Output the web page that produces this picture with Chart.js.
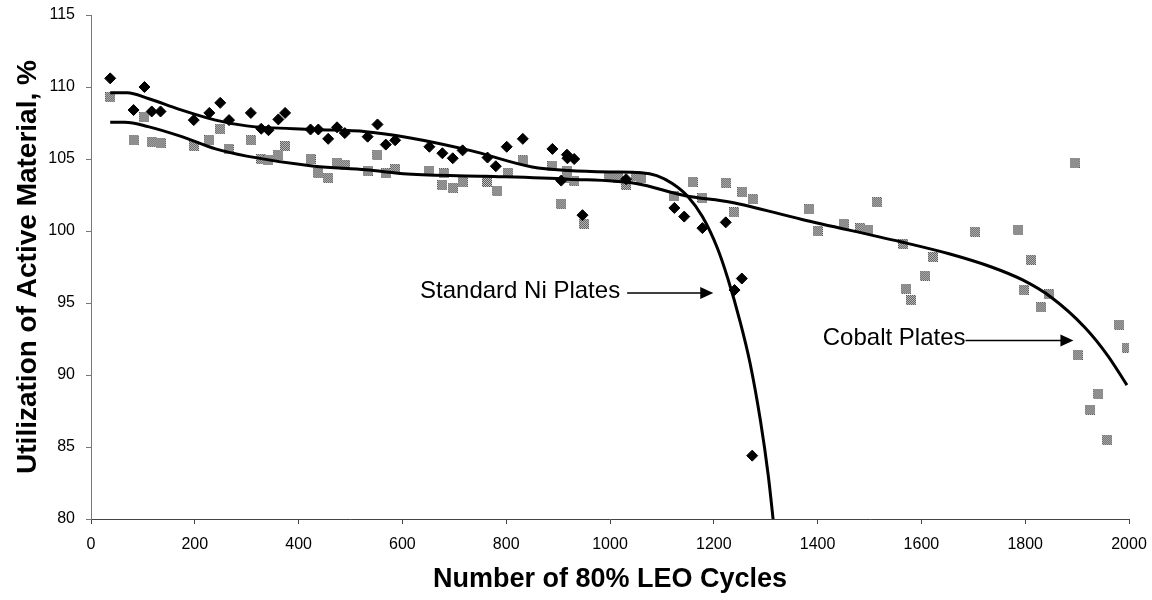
<!DOCTYPE html>
<html>
<head>
<meta charset="utf-8">
<script src="https://cdn.jsdelivr.net/npm/chart.js@4.4.1/dist/chart.umd.min.js"></script>
<style>
  html, body { margin: 0; padding: 0; background: #fff; }
  #wrap { width: 1152px; height: 600px; }
</style>
</head>
<body>
<div id="wrap"><canvas id="chart" width="1152" height="600"></canvas></div>
<script>
// Standard Ni plates (black diamonds)
const niX = [37, 82, 103, 117, 134, 198, 228, 249, 266, 308, 328, 342, 361, 374, 423, 438, 457, 474, 489, 533,
  552, 568, 586, 652, 677, 697, 716, 764, 780, 801, 832, 889, 906, 917, 918, 931, 947, 1031, 1124, 1143,
  1178, 1223, 1240, 1254, 1274];
const niY = [110.6, 108.4, 110.0, 108.3, 108.3, 107.7, 108.2, 108.9, 107.7, 108.2, 107.1, 107.0, 107.75, 108.2, 107.05, 107.05, 106.4, 107.2, 106.8, 106.55,
  107.4, 106.0, 106.3, 105.85, 105.4, 105.05, 105.6, 105.1, 104.5, 105.85, 106.4, 105.7, 103.5, 105.3, 105.05, 105.0, 101.1, 103.6, 101.6, 101.0,
  100.2, 100.6, 95.9, 96.7, 84.4];

// Cobalt plates (grey squares)
const coX = [37, 82, 103, 117, 134, 198, 228, 249, 265, 308, 328, 342, 361, 374, 423, 438, 457, 474, 489, 533,
  552, 568, 586, 651, 677, 680, 697, 716, 763, 783, 803, 832, 889, 906, 917, 918, 931, 950, 999, 1015,
  1031, 1050, 1060, 1124, 1159, 1178, 1223, 1239, 1255, 1275, 1384, 1400, 1450, 1482, 1498, 1514, 1565, 1570, 1580, 1607,
  1622, 1703, 1787, 1797, 1811, 1830, 1846, 1895, 1901, 1925, 1941, 1958, 1981, 1996];
const coY = [109.3, 106.3, 107.9, 106.2, 106.1, 105.9, 106.3, 107.1, 105.7, 106.3, 105.0, 104.9, 105.3, 105.9, 105.0, 104.05, 103.7, 104.75, 104.6, 104.2,
  105.3, 104.0, 104.3, 104.2, 103.2, 104.0, 103.0, 103.4, 103.4, 102.8, 104.05, 104.9, 104.5, 101.9, 104.2, 103.7, 103.5, 100.5, 103.8, 103.7,
  103.2, 103.8, 103.65, 102.4, 103.4, 102.3, 103.35, 101.3, 102.7, 102.2, 101.5, 100.0, 100.5, 100.2, 100.1, 102.0, 99.1, 96.0, 95.2, 96.9,
  98.2, 99.95, 100.1, 95.9, 98.0, 94.7, 95.6, 104.75, 91.4, 87.6, 88.7, 85.5, 93.5, 91.9];

// trend curves
const niFitX = [37, 70, 110, 170, 240, 300, 430, 530, 610, 730, 850, 920, 1000, 1060, 1090, 1120, 1150, 1178, 1207, 1227, 1250, 1270, 1290, 1305, 1316];
const niFitY = [109.6, 109.6, 109.2, 108.45, 107.7, 107.3, 107.05, 106.9, 106.5, 105.6, 104.45, 104.2, 104.1, 104.05, 103.85, 103.3, 102.4, 101.0, 98.8, 96.7, 93.8, 90.8, 86.8, 83.0, 79.4];
const coFitX = [37, 65, 110, 175, 240, 300, 430, 530, 610, 760, 920, 1050, 1145, 1233, 1370, 1560, 1655, 1735, 1795, 1850, 1915, 1960, 1996];
const coFitY = [107.55, 107.55, 107.25, 106.55, 105.7, 105.2, 104.5, 104.25, 103.95, 103.8, 103.6, 103.3, 102.45, 102.0, 100.8, 99.25, 98.4, 97.5, 96.6, 95.4, 93.3, 91.3, 89.3];

// arrow labels
const noteText = ['Standard Ni Plates', 'Cobalt Plates'];
const noteFromX = [1033, 1685];
const noteToX = [1199, 1893];
const noteY = [95.7, 92.4];
const noteGap = [7, 0];

const xTicks = [0, 200, 400, 600, 800, 1000, 1200, 1400, 1600, 1800, 2000];
const yTicks = [80, 85, 90, 95, 100, 105, 110, 115];

function toPoints(xs, ys) {
    return xs.map((x, i) => ({ x: x, y: ys[i] }));
}

// dithered grey square marker
function makeSquare() {
    const c = document.createElement('canvas');
    c.width = 10;
    c.height = 10;
    const g = c.getContext('2d');
    for (let i = 0; i < 10; i++) {
        for (let j = 0; j < 10; j++) {
            g.fillStyle = (i + j) % 2 ? '#cfcfcf' : '#4e4e4e';
            g.fillRect(i, j, 1, 1);
        }
    }
    return c;
}

const arrowNotes = {
    id: 'arrowNotes',
    afterDatasetsDraw(chart) {
        const ctx = chart.ctx;
        const xs = chart.scales.x;
        const ys = chart.scales.y;
        ctx.save();
        ctx.fillStyle = '#000';
        ctx.strokeStyle = '#000';
        ctx.lineWidth = 1.5;
        ctx.font = '24px "Liberation Sans", Arial, sans-serif';
        ctx.textAlign = 'right';
        ctx.textBaseline = 'middle';
        for (let i = 0; i < noteText.length; i++) {
            const x0 = xs.getPixelForValue(noteFromX[i]);
            const x1 = xs.getPixelForValue(noteToX[i]);
            const y = ys.getPixelForValue(noteY[i]);
            ctx.beginPath();
            ctx.moveTo(x0, y);
            ctx.lineTo(x1 - 10, y);
            ctx.stroke();
            ctx.beginPath();
            ctx.moveTo(x1, y);
            ctx.lineTo(x1 - 13, y - 6);
            ctx.lineTo(x1 - 13, y + 6);
            ctx.closePath();
            ctx.fill();
            ctx.fillText(noteText[i], x0 - noteGap[i], y - 2);
        }
        ctx.restore();
    }
};

const fontFamily = '"Liberation Sans", Arial, sans-serif';
const tickFont = { family: fontFamily, size: 16 };

new Chart(document.getElementById('chart'), {
    type: 'scatter',
    data: {
        datasets: [
            {
                label: 'Ni fit',
                data: toPoints(niFitX, niFitY),
                showLine: true,
                borderColor: '#000',
                borderWidth: 3,
                pointRadius: 0,
                cubicInterpolationMode: 'monotone',
                clip: 0
            },
            {
                label: 'Cobalt fit',
                data: toPoints(coFitX, coFitY),
                showLine: true,
                borderColor: '#000',
                borderWidth: 3,
                pointRadius: 0,
                cubicInterpolationMode: 'monotone',
                clip: 0
            },
            {
                label: 'Standard Ni Plates',
                data: toPoints(niX, niY),
                pointStyle: 'rectRot',
                pointRadius: 5.5,
                backgroundColor: '#000',
                borderColor: '#000',
                borderWidth: 1
            },
            {
                label: 'Cobalt Plates',
                data: toPoints(coX, coY),
                pointStyle: makeSquare(),
                pointRadius: 5
            }
        ]
    },
    options: {
        responsive: false,
        animation: false,
        events: [],
        layout: { padding: { left: 0, right: 23, top: 15, bottom: 0 } },
        plugins: {
            legend: { display: false },
            tooltip: { enabled: false }
        },
        scales: {
            x: {
                type: 'linear',
                min: 0,
                max: 2000,
                afterFit: (scale) => {
                    scale.height = 81;
                    scale.paddingLeft = 0;
                    scale.paddingRight = 0;
                },
                afterBuildTicks: (scale) => { scale.ticks = xTicks.map(v => ({ value: v })); },
                border: { color: '#444', width: 1 },
                grid: { drawOnChartArea: false, drawTicks: true, tickLength: 5, color: '#444' },
                ticks: {
                    color: '#000',
                    font: tickFont,
                    padding: 11,
                    maxRotation: 0,
                    callback: (v) => String(v)
                },
                title: {
                    display: true,
                    text: 'Number of 80% LEO Cycles',
                    color: '#000',
                    font: { family: fontFamily, size: 27, weight: 'bold' },
                    padding: { top: 0, bottom: 4 }
                }
            },
            y: {
                type: 'linear',
                min: 80,
                max: 115,
                afterFit: (scale) => {
                    scale.width = 91;
                    scale.paddingTop = 0;
                    scale.paddingBottom = 0;
                },
                afterBuildTicks: (scale) => { scale.ticks = yTicks.map(v => ({ value: v })); },
                border: { color: '#777', width: 1 },
                grid: { drawOnChartArea: false, drawTicks: true, tickLength: 5, color: '#777' },
                ticks: { color: '#000', font: tickFont, padding: 11, callback: (v) => String(v) },
                title: {
                    display: true,
                    text: 'Utilization of Active Material, %',
                    color: '#000',
                    font: { family: fontFamily, size: 28, weight: 'bold' },
                    padding: { top: 11, bottom: 0 }
                }
            }
        }
    },
    plugins: [arrowNotes]
});
</script>
</body>
</html>
